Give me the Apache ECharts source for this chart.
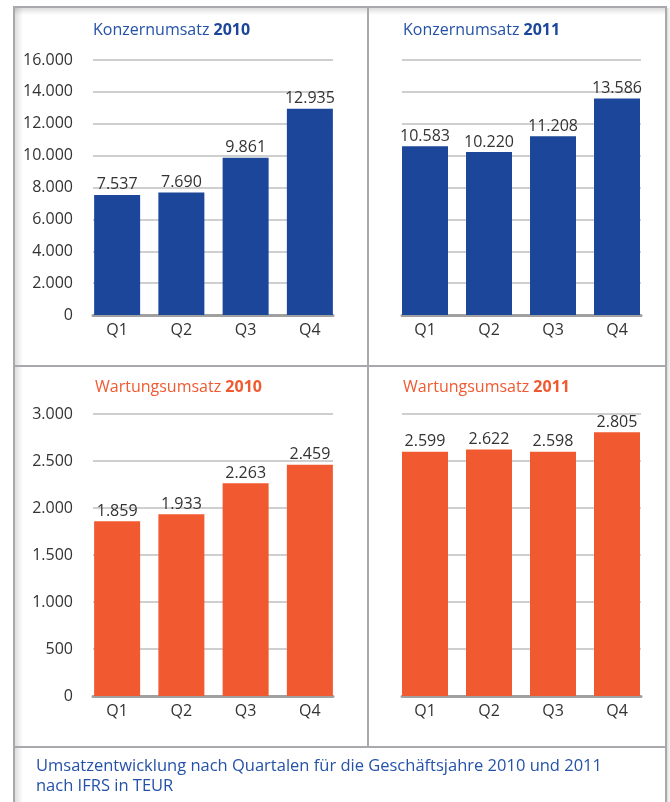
<!DOCTYPE html>
<html>
<head>
<meta charset="utf-8">
<script src="https://cdn.jsdelivr.net/npm/echarts@6/dist/echarts.min.js"></script>
<style>
html,body{margin:0;padding:0;background:#fff;}
#main{width:670px;height:802px;}
</style>
</head>
<body>
<div id="main"></div>
<script>
// Daten (TEUR)
var quartale = ['Q1', 'Q2', 'Q3', 'Q4'];
var konzern2010 = [7537, 7690, 9861, 12935];
var konzern2011 = [10583, 10220, 11208, 13586];
var wartung2010 = [1859, 1933, 2263, 2459];
var wartung2011 = [2599, 2622, 2598, 2805];
var konzernTicks = [0, 16000, 2000]; // min, max, interval
var wartungTicks = [0, 3000, 500];

var blau = '#1b4699';
var orange = '#f15a31';
var rahmen = '#a9a9ad';
var schrift = 'Open Sans, Noto Sans, sans-serif';

function fmt(v) {
    return String(v).replace(/\B(?=(\d{3})+(?!\d))/g, '.');
}

var chart = echarts.init(document.getElementById('main'));

// ein Panel = 2 grids: eins fuer Linien/Achse, eins fuer die Balken
var panels = [
    {title: 'Konzernumsatz ', year: '2010', tcol: '#2452a8', ycol: blau, data: konzern2010, ticks: konzernTicks, color: blau,
     lineL: 93, lineR: 333, barL: 85, barR: 342, top: 60, bot: 315, labels: true, tx: 93, ty: 22},
    {title: 'Konzernumsatz ', year: '2011', tcol: '#2452a8', ycol: blau, data: konzern2011, ticks: konzernTicks, color: blau,
     lineL: 402, lineR: 641, barL: 393, barR: 649, top: 60, bot: 315, labels: false, tx: 403, ty: 22},
    {title: 'Wartungsumsatz ', year: '2010', tcol: '#f05a30', ycol: orange, data: wartung2010, ticks: wartungTicks, color: orange,
     lineL: 93, lineR: 333, barL: 85, barR: 342, top: 414, bot: 696, labels: true, tx: 95, ty: 379},
    {title: 'Wartungsumsatz ', year: '2011', tcol: '#f05a30', ycol: orange, data: wartung2011, ticks: wartungTicks, color: orange,
     lineL: 402, lineR: 641, barL: 393, barR: 649, top: 414, bot: 696, labels: false, tx: 403, ty: 379}
];

var grids = [], xAxes = [], yAxes = [], series = [], titles = [];
panels.forEach(function (p, i) {
    var g1 = i * 2, g2 = i * 2 + 1;
    grids.push({left: p.lineL, width: p.lineR - p.lineL, top: p.top, height: p.bot - p.top});
    grids.push({left: p.barL, width: p.barR - p.barL, top: p.top, height: p.bot - p.top});
    // Linien-Grid
    xAxes.push({gridIndex: g1, type: 'category', data: quartale,
        axisLine: {show: true, lineStyle: {color: '#a0a0a0', width: 3}},
        axisTick: {show: false}, axisLabel: {show: false}});
    yAxes.push({gridIndex: g1, type: 'value', min: p.ticks[0], max: p.ticks[1], interval: p.ticks[2],
        axisLine: {show: false}, axisTick: {show: false},
        axisLabel: {show: p.labels, margin: 20, fontSize: 16, color: '#333', fontFamily: schrift, formatter: fmt},
        splitLine: {show: true, lineStyle: {color: '#cfcfcf', width: 2}}});
    // Balken-Grid
    xAxes.push({gridIndex: g2, type: 'category', data: quartale,
        axisLine: {show: false}, axisTick: {show: false},
        axisLabel: {margin: 7, fontSize: 16, color: '#333', fontFamily: schrift}});
    yAxes.push({gridIndex: g2, type: 'value', min: p.ticks[0], max: p.ticks[1], interval: p.ticks[2],
        show: false, splitLine: {show: false}});
    series.push({type: 'bar', xAxisIndex: g2, yAxisIndex: g2, data: p.data, barWidth: 46,
        itemStyle: {color: p.color},
        label: {show: true, position: 'top', distance: 2, fontSize: 16, color: '#333', fontFamily: schrift,
            formatter: function (o) { return fmt(o.value); }}});
    titles.push({left: p.tx, top: p.ty, padding: 0, text: '{a|' + p.title + '}{b|' + p.year + '}',
        textStyle: {rich: {
            a: {fontSize: 16, fontWeight: 'normal', color: p.tcol, fontFamily: schrift},
            b: {fontSize: 16, fontWeight: 'bold', color: p.ycol, fontFamily: schrift}
        }}});
});

// Bildunterschrift
titles.push({left: 36, top: 756, padding: 0, text: 'Umsatzentwicklung nach Quartalen für die Geschäftsjahre 2010 und 2011\nnach IFRS in TEUR',
    textStyle: {fontSize: 16.5, fontWeight: 'normal', color: '#2452a8', fontFamily: schrift, lineHeight: 20}});

// Rahmen
function linie(x1, y1, x2, y2) {
    return {type: 'line', silent: true, shape: {x1: x1, y1: y1, x2: x2, y2: y2},
        style: {stroke: rahmen, lineWidth: 2}};
}
function schatten(x, y, w, h, dx, dy) {
    return {type: 'rect', silent: true, shape: {x: x, y: y, width: w, height: h},
        style: {fill: new echarts.graphic.LinearGradient(0, 0, dx, dy, [
            {offset: 0, color: 'rgba(0,0,0,0.13)'}, {offset: 1, color: 'rgba(0,0,0,0)'}])}};
}
var rahmenTeile = [
    schatten(15, 8, 8, 794, 1, 0),
    schatten(15, 8, 651, 7, 0, 1),
    schatten(667, 8, 4, 794, 1, 0),
    linie(14, 7, 14, 802),
    linie(13, 7, 667, 7),
    linie(666, 7, 666, 802),
    linie(368, 7, 368, 747),
    linie(14, 366, 666, 366),
    linie(14, 747, 666, 747)
];

var option = {
    animation: false,
    title: titles,
    grid: grids,
    xAxis: xAxes,
    yAxis: yAxes,
    series: series,
    graphic: rahmenTeile
};
chart.setOption(option);
</script>
</body>
</html>
